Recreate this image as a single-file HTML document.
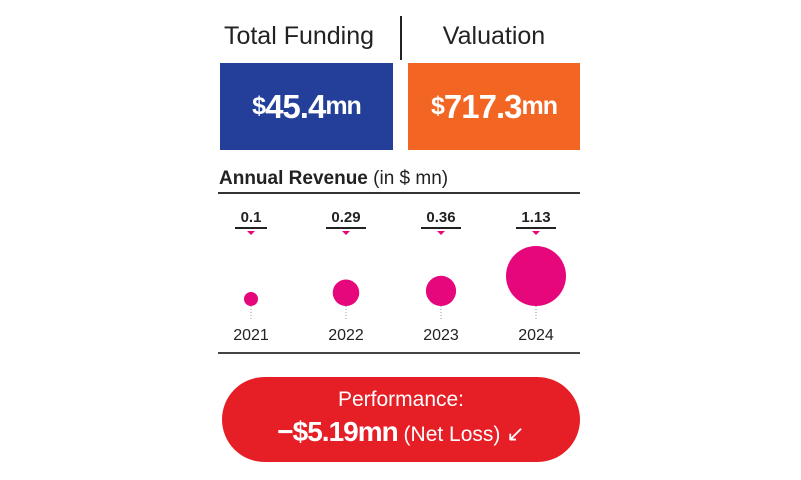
<!DOCTYPE html>
<html><head><meta charset="utf-8"><style>
body{margin:0;width:801px;height:480px;background:#fff;font-family:"Liberation Sans",sans-serif;position:relative;overflow:hidden}
.a{position:absolute}
</style></head><body>
<div class="a" style="left:210px;top:22px;width:178px;text-align:center;font-size:25px;color:#222">Total Funding</div>
<div class="a" style="left:400px;top:16px;width:2px;height:44px;background:#222"></div>
<div class="a" style="left:408px;top:22px;width:172px;text-align:center;font-size:25px;color:#222">Valuation</div>
<div class="a" style="left:220px;top:63px;width:173px;height:87px;background:#233f99;color:#fff;font-weight:bold;display:flex;align-items:center;justify-content:center;font-size:33px;letter-spacing:-1px"><span style="font-size:25px">$</span>45.4<span style="font-size:25px">mn</span></div>
<div class="a" style="left:408px;top:63px;width:172px;height:87px;background:#f26522;color:#fff;font-weight:bold;display:flex;align-items:center;justify-content:center;font-size:33px;letter-spacing:-1px"><span style="font-size:25px">$</span>717.3<span style="font-size:25px">mn</span></div>
<div class="a" style="left:219px;top:168px;font-size:19px;color:#222"><b>Annual Revenue</b> (in $ mn)</div>
<div class="a" style="left:218px;top:192px;width:362px;height:2px;background:#333"></div>
<div class="a" style="left:218px;top:352px;width:362px;height:2px;background:#444"></div>
<svg class="a" style="left:0;top:0" width="801" height="480" id="ch"></svg>
<div class="a" style="left:222px;top:377px;width:358px;height:85px;border-radius:43px;background:#e61e26;color:#fff;text-align:center">
<div style="font-size:21px;margin-top:11px">Performance:</div>
<div style="font-size:21px;margin-top:4px"><b style="font-size:28px;letter-spacing:-1px">−$5.19mn</b> (Net Loss) <span style="font-size:22px">↙</span></div>
</div>
<script>
const years=["2021","2022","2023","2024"];
const revenue=[0.1,0.29,0.36,1.13];
const labels=["0.1","0.29","0.36","1.13"];
const svg=document.getElementById('ch');const NS="http://www.w3.org/2000/svg";
const xs=i=>251+i*95;const rs=v=>30*Math.pow(v/1.13,0.6);const base=306;
function mk(t,a){const e=document.createElementNS(NS,t);for(const k in a)e.setAttribute(k,a[k]);svg.appendChild(e);return e;}
revenue.forEach((v,i)=>{const x=xs(i),r=rs(v);
let t=mk('text',{x:x,y:222,'text-anchor':'middle','font-size':15,'font-weight':'bold',fill:'#222','font-family':'Liberation Sans'});t.textContent=labels[i];


const w=labels[i].length*8+8;
let u=mk('rect',{x:x-w/2,y:227,width:w,height:2,fill:'#222'});


let p=mk('polygon',{points:`${x-4},231 ${x+4},231 ${x},235`,fill:'#e5077b'});


let c=mk('circle',{cx:x,cy:base-r,r:r,fill:'#e5077b'});


let l=mk('line',{x1:x,y1:base,x2:x,y2:320,stroke:'#999','stroke-dasharray':'1,2'});


let y=mk('text',{x:x,y:340,'text-anchor':'middle','font-size':16,fill:'#222','font-family':'Liberation Sans'});y.textContent=years[i];


});
</script>
</body></html>
